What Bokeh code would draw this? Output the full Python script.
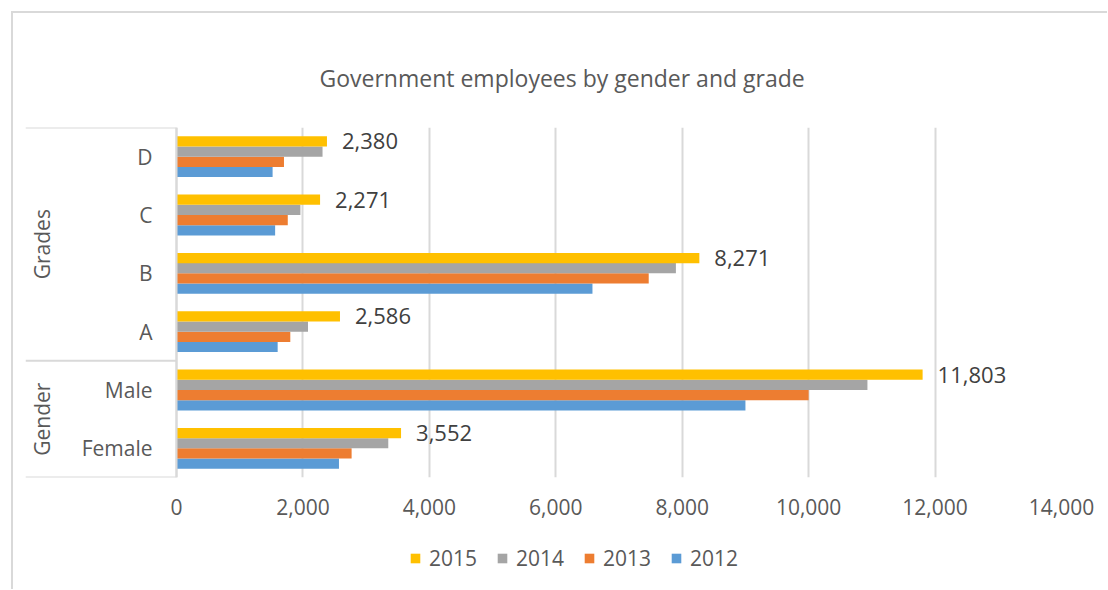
from bokeh.plotting import figure
from bokeh.layouts import column
from bokeh.models import (ColumnDataSource, FactorRange, Range1d, FixedTicker,
                          NumeralTickFormatter, Legend, LegendItem, Span)
from bokeh.transform import dodge
from bokeh.core.properties import value
from bokeh.embed import file_html
from bokeh.resources import INLINE
import math

# ---------------- data ----------------
title_text = "Government employees by gender and grade"
groups = ["Gender", "Gender", "Grades", "Grades", "Grades", "Grades"]
categories = ["Female", "Male", "A", "B", "C", "D"]
years = ["2012", "2013", "2014", "2015"]
v2012 = [2570, 9000, 1600, 6580, 1560, 1520]
v2013 = [2770, 10000, 1800, 7470, 1760, 1700]
v2014 = [3350, 10930, 2080, 7900, 1960, 2310]
v2015 = [3552, 11803, 2586, 8271, 2271, 2380]
x_ticks = [0, 2000, 4000, 6000, 8000, 10000, 12000, 14000]
group_names = ["Gender", "Grades"]
legend_order = ["2015", "2014", "2013", "2012"]

# ---------------- style ----------------
colors = {"2012": "#5B9BD5", "2013": "#ED7D31", "2014": "#A5A5A5", "2015": "#FFC000"}
FONT = "Open Sans"
TXT = "#595959"
LINE = "#d9d9d9"
label_room = 2389  # x-extent (data units) reserved left of 0 for category labels

factors = list(zip(groups, categories))
src = ColumnDataSource(dict(
    f=factors,
    cat=categories,
    y2012=v2012, y2013=v2013, y2014=v2014, y2015=v2015,
    lab=[f"{v:,}" for v in v2015],
))

p = figure(
    width=1094, height=516,
    x_range=Range1d(-label_room, x_ticks[-1]),
    y_range=FactorRange(factors=factors, range_padding=0, group_padding=0, factor_padding=0),
    output_backend="svg", toolbar_location=None,
    min_border_left=12, min_border_right=46, min_border_top=114, min_border_bottom=52,
)
p.outline_line_color = None
p.background_fill_color = "white"
p.border_fill_color = "white"

bar_h = 0.175
offsets = {"2012": -1.5 * bar_h, "2013": -0.5 * bar_h, "2014": 0.5 * bar_h, "2015": 1.5 * bar_h}
for yr in years:
    p.hbar(y=dodge("f", offsets[yr], range=p.y_range), right="y" + yr, left=0,
           height=bar_h, color=colors[yr], line_color=None, source=src)

# data labels for 2015
p.text(x="y2015", y=dodge("f", offsets["2015"], range=p.y_range), text="lab", source=src,
       x_offset=15, text_baseline="middle", text_align="left",
       text_font=value(FONT), text_font_size="22px", text_color="#404040")

# category labels
p.text(x=0, y="f", text="cat", source=src, x_offset=-24, text_align="right",
       text_baseline="middle", text_font=value(FONT), text_font_size="21px", text_color=TXT)

# group labels
p.text(x=[-label_room] * 2, y=group_names, text=group_names, x_offset=16, angle=math.pi / 2,
       text_align="center", text_baseline="middle",
       text_font=value(FONT), text_font_size="21px", text_color=TXT)

# category box lines
box = ColumnDataSource(dict(
    y=[("Gender", "Female", -0.5), ("Grades", "A", -0.5), ("Grades", "D", 0.5)],
    x0=[-label_room] * 3, x1=[0] * 3,
))
p.segment(x0="x0", x1="x1", y0="y", y1="y", source=box, line_color=LINE, line_width=2)
p.add_layout(Span(location=0, dimension="height", line_color=LINE, line_width=2))

# axes
p.yaxis.visible = False
p.xaxis.ticker = FixedTicker(ticks=x_ticks)
p.xaxis.formatter = NumeralTickFormatter(format="0,0")
p.xaxis.axis_line_color = None
p.xaxis.major_tick_line_color = None
p.xaxis.minor_tick_line_color = None
p.xaxis.major_label_standoff = 15
p.xaxis.major_label_text_font = FONT
p.xaxis.major_label_text_font_size = "21px"
p.xaxis.major_label_text_color = TXT
p.xgrid.ticker = FixedTicker(ticks=x_ticks)
p.xgrid.grid_line_color = LINE
p.xgrid.grid_line_width = 2
p.ygrid.grid_line_color = None

# title
p.title.text = title_text
p.title.align = "left"
p.title.offset = 294
p.title.standoff = 68
p.title.text_font = FONT
p.title.text_font_size = "23px"
p.title.text_font_style = "normal"
p.title.text_color = TXT

# legend strip (separate small figure holding swatch renderers + legend)
lg = figure(width=1094, height=60, x_range=Range1d(0, 1), y_range=Range1d(0, 1),
            x_axis_type=None, y_axis_type=None, output_backend="svg", toolbar_location=None,
            min_border=0, title=None)
lg.outline_line_color = None
lg.xgrid.visible = False
lg.ygrid.visible = False
swatch_src = ColumnDataSource(dict(y=[0], left=[0], right=[0]))  # zero-size carrier bars
swatch = {}
for yr in legend_order:
    swatch[yr] = lg.hbar(y="y", left="left", right="right", height=0, source=swatch_src,
                         color=colors[yr], line_color=None)

legend = Legend(
    items=[LegendItem(label=yr, renderers=[swatch[yr]]) for yr in legend_order],
    orientation="horizontal", location=(384, 17),
    glyph_width=12, glyph_height=12, label_standoff=8, spacing=19,
    padding=0, margin=0, border_line_color=None, background_fill_alpha=0,
    label_text_font=FONT, label_text_font_size="21px", label_text_color=TXT,
)
lg.add_layout(legend, "center")

layout = column(p, lg)
layout.styles = {"border-top": "2px solid #d9d9d9", "border-left": "2px solid #d9d9d9",
                 "margin-left": "11px", "margin-top": "11px"}

open("out.html", "w").write(file_html(layout, INLINE))
